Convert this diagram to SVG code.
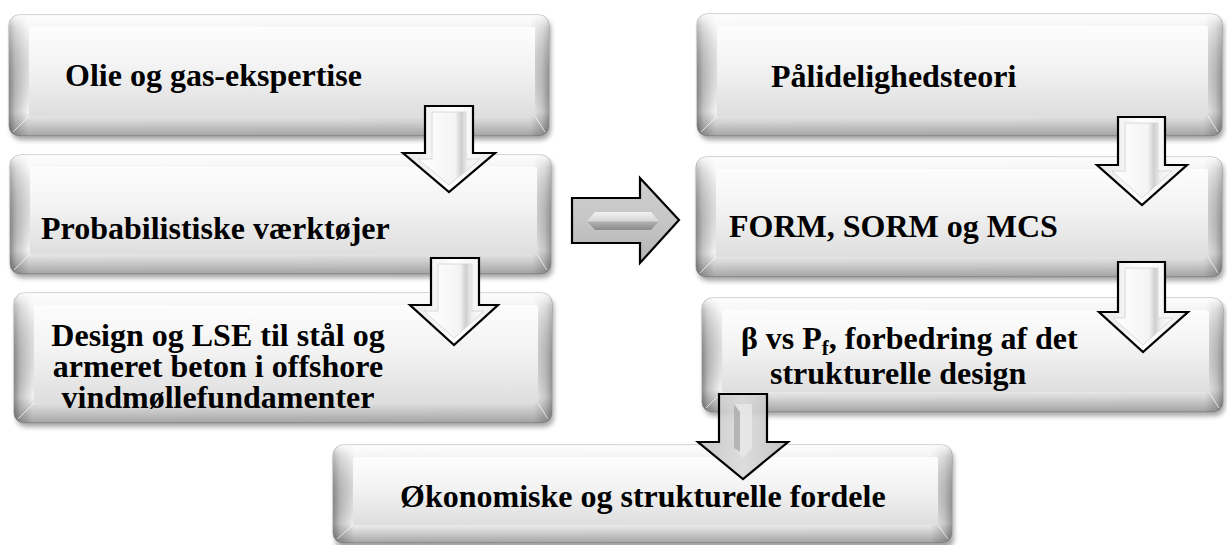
<svg xmlns="http://www.w3.org/2000/svg" width="1227" height="545" viewBox="0 0 1227 545">
  <defs>
    <linearGradient id="gH" x1="0" y1="0" x2="1" y2="0">
      <stop offset="0" stop-color="#8e8e8e"/>
      <stop offset="0.012" stop-color="#c4c4c4"/>
      <stop offset="0.035" stop-color="#f2f2f2"/>
      <stop offset="0.965" stop-color="#eeeeee"/>
      <stop offset="0.988" stop-color="#c6c6c6"/>
      <stop offset="1" stop-color="#9a9a9a"/>
    </linearGradient>
    <linearGradient id="gV" x1="0" y1="0" x2="0" y2="1">
      <stop offset="0" stop-color="#ffffff" stop-opacity="0.9"/>
      <stop offset="0.1" stop-color="#ffffff" stop-opacity="0.4"/>
      <stop offset="0.8" stop-color="#000000" stop-opacity="0"/>
      <stop offset="0.88" stop-color="#000000" stop-opacity="0.12"/>
      <stop offset="1" stop-color="#000000" stop-opacity="0.32"/>
    </linearGradient>
    <linearGradient id="gFace" x1="0" y1="0" x2="0" y2="1">
      <stop offset="0" stop-color="#fdfdfd"/>
      <stop offset="0.45" stop-color="#f3f3f3"/>
      <stop offset="1" stop-color="#dedede"/>
    </linearGradient>
    <linearGradient id="gArrow" x1="0" y1="0" x2="1" y2="0">
      <stop offset="0" stop-color="#e6e6e6"/>
      <stop offset="0.5" stop-color="#ffffff"/>
      <stop offset="1" stop-color="#ececec"/>
    </linearGradient>
    <linearGradient id="gArrowIn" x1="0" y1="0" x2="1" y2="0">
      <stop offset="0" stop-color="#ffffff"/>
      <stop offset="0.6" stop-color="#f4f4f4"/>
      <stop offset="0.7" stop-color="#cfcfcf"/>
      <stop offset="0.8" stop-color="#f0f0f0"/>
      <stop offset="1" stop-color="#ffffff"/>
    </linearGradient>
    <linearGradient id="gGrayArrow" x1="0" y1="0" x2="1" y2="0">
      <stop offset="0" stop-color="#c2c2c2"/>
      <stop offset="0.5" stop-color="#dadada"/>
      <stop offset="1" stop-color="#bdbdbd"/>
    </linearGradient>
    <linearGradient id="gRight" x1="0" y1="0" x2="0" y2="1">
      <stop offset="0" stop-color="#cfcfcf"/>
      <stop offset="0.5" stop-color="#c6c6c6"/>
      <stop offset="1" stop-color="#b4b4b4"/>
    </linearGradient>
    <linearGradient id="gRightIn" x1="0" y1="0" x2="0" y2="1">
      <stop offset="0" stop-color="#f2f2f2"/>
      <stop offset="0.5" stop-color="#d6d6d6"/>
      <stop offset="0.55" stop-color="#b0b0b0"/>
      <stop offset="1" stop-color="#8a8a8a"/>
    </linearGradient>
    <filter id="shadow" x="-5%" y="-10%" width="110%" height="130%">
      <feGaussianBlur stdDeviation="2.5"/>
    </filter>
  </defs>
  <style>
    .shadow { fill: #000; opacity: 0.35; filter: url(#shadow); }
    .base { fill: url(#gH); stroke: #9c9c9c; stroke-width: 0.8; }
    .over { fill: url(#gV); }
    .face { fill: url(#gFace); }
    .bev { stroke: #ffffff; stroke-width: 1; opacity: 0.7; }
    .lbl { font-family: "Liberation Serif", "Times New Roman", serif; font-weight: bold; font-size: 32px; fill: #000; }
    .sub { font-size: 21px; }
    .arr { fill: url(#gArrow); stroke: #000; stroke-width: 2.2; stroke-linejoin: miter; }
    .arrIn { fill: url(#gArrowIn); stroke: #d2d2d2; stroke-width: 0.8; }
    .garr { fill: url(#gGrayArrow); fill-opacity: 0.9; stroke: #000; stroke-width: 2.2; }
    .rarr { fill: url(#gRight); stroke: #000; stroke-width: 2.2; }
    .rarrIn { fill: url(#gRightIn); }
  </style>

  <g id="node-olie">
    <rect class="shadow" x="11" y="19" width="540" height="121" rx="10"/>
    <rect class="base" x="9" y="15" width="540" height="121" rx="10"/>
    <rect class="over" x="9" y="15" width="540" height="121" rx="10"/>
    <rect class="face" x="29" y="27" width="506" height="89" rx="2"/>
    <path class="bev" d="M29 116 L13 132 M535 116 L545 132"/>
    <text class="lbl" x="65" y="86">Olie og gas-ekspertise</text>
  </g>

  <g id="node-prob">
    <rect class="shadow" x="12" y="159" width="541" height="119" rx="10"/>
    <rect class="base" x="10" y="155" width="541" height="119" rx="10"/>
    <rect class="over" x="10" y="155" width="541" height="119" rx="10"/>
    <rect class="face" x="30" y="167" width="507" height="87" rx="2"/>
    <path class="bev" d="M30 254 L14 270 M537 254 L547 270"/>
    <text class="lbl" x="41" y="239">Probabilistiske værktøjer</text>
  </g>

  <g id="node-design">
    <rect class="shadow" x="16" y="297" width="538" height="130" rx="10"/>
    <rect class="base" x="14" y="293" width="538" height="130" rx="10"/>
    <rect class="over" x="14" y="293" width="538" height="130" rx="10"/>
    <rect class="face" x="34" y="305" width="504" height="98" rx="2"/>
    <path class="bev" d="M34 403 L18 419 M538 403 L548 419"/>
    <text class="lbl" text-anchor="middle" x="218" y="346">Design og LSE til stål og</text>
    <text class="lbl" text-anchor="middle" x="218" y="377">armeret beton i offshore</text>
    <text class="lbl" text-anchor="middle" x="218" y="408">vindmøllefundamenter</text>
  </g>

  <g id="node-paalidelighed">
    <rect class="shadow" x="699" y="18" width="525" height="122" rx="10"/>
    <rect class="base" x="697" y="14" width="525" height="122" rx="10"/>
    <rect class="over" x="697" y="14" width="525" height="122" rx="10"/>
    <rect class="face" x="717" y="26" width="491" height="90" rx="2"/>
    <path class="bev" d="M717 116 L701 132 M1208 116 L1218 132"/>
    <text class="lbl" x="771" y="87">Pålidelighedsteori</text>
  </g>

  <g id="node-form">
    <rect class="shadow" x="698" y="161" width="526" height="120" rx="10"/>
    <rect class="base" x="696" y="157" width="526" height="120" rx="10"/>
    <rect class="over" x="696" y="157" width="526" height="120" rx="10"/>
    <rect class="face" x="716" y="169" width="492" height="88" rx="2"/>
    <path class="bev" d="M716 257 L700 273 M1208 257 L1218 273"/>
    <text class="lbl" x="729" y="237">FORM, SORM og MCS</text>
  </g>

  <g id="node-beta">
    <rect class="shadow" x="704" y="302" width="521" height="114" rx="10"/>
    <rect class="base" x="702" y="298" width="521" height="114" rx="10"/>
    <rect class="over" x="702" y="298" width="521" height="114" rx="10"/>
    <rect class="face" x="722" y="310" width="487" height="82" rx="2"/>
    <path class="bev" d="M722 392 L706 408 M1209 392 L1219 408"/>
    <text class="lbl" x="741" y="349">β vs P<tspan class="sub" dy="6">f</tspan><tspan dy="-6">, forbedring af det</tspan></text>
    <text class="lbl" x="770" y="384">strukturelle design</text>
  </g>

  <g id="node-oekonomi">
    <rect class="shadow" x="335" y="449" width="619" height="100" rx="10"/>
    <rect class="base" x="333" y="445" width="619" height="98" rx="10"/>
    <rect class="over" x="333" y="445" width="619" height="98" rx="10"/>
    <rect class="face" x="353" y="457" width="585" height="68" rx="2"/>
    <path class="bev" d="M353 525 L337 539 M938 525 L948 539"/>
    <text class="lbl" x="400" y="507">Økonomiske og strukturelle fordele</text>
  </g>

  <g id="connectors">
    <polygon class="arr" points="425,106 473,106 473,153 495,153 449,192 403,153 425,153"/>
    <polygon class="arrIn" points="432,112 466,112 466,159 480,159 449,185 418,159 432,159"/>
    <polygon class="arr" points="431,258 479,258 479,305 498,305 454,345 410,305 431,305"/>
    <polygon class="arrIn" points="438,264 472,264 472,311 484,311 454,338 424,311 438,311"/>
    <polygon class="rarr" points="572,198 640,198 640,178 679,220 640,263 640,243 572,243"/>
    <polygon class="rarrIn" points="587,221 595,212 651,212 659,221 651,230 595,230"/>
    <polygon class="arr" points="1118,117 1165,117 1165,165 1187,165 1142,205 1097,165 1118,165"/>
    <polygon class="arrIn" points="1125,123 1158,123 1158,171 1172,171 1142,198 1112,171 1125,171"/>
    <polygon class="arr" points="1118,262 1165,262 1165,312 1188,312 1143,352 1099,312 1118,312"/>
    <polygon class="arrIn" points="1125,268 1158,268 1158,318 1173,318 1143,345 1113,318 1125,318"/>
    <polygon class="garr" points="719,394 767,394 767,442 788,442 743,479 698,442 719,442"/>
    <polygon points="734,404 752,404 752,448 743,458 734,448" fill="#e9e9e9" fill-opacity="0.8"/>
    <polygon points="734,404 740,412 740,452 734,448" fill="#9f9f9f" fill-opacity="0.7"/>
  </g>
</svg>
